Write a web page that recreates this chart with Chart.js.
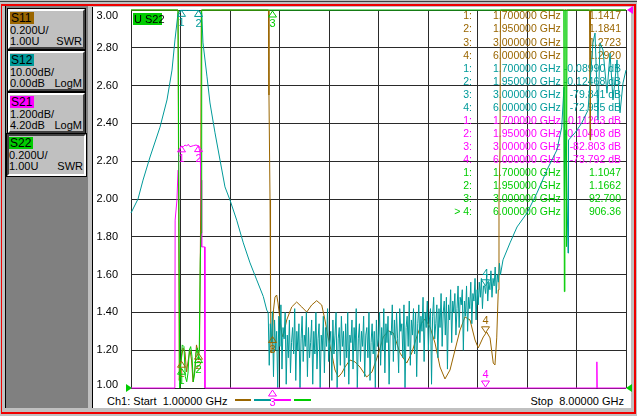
<!DOCTYPE html>
<html>
<head>
<meta charset="utf-8">
<script src="https://cdn.jsdelivr.net/npm/chart.js@4.4.1/dist/chart.umd.min.js"></script>
<style>
  html, body { margin: 0; padding: 0; }
  body { width: 637px; height: 416px; overflow: hidden; background: #c0c0c0; position: relative;
         font-family: "Liberation Sans", Arial, sans-serif; font-size: 11px; color: #000; }
  .abs { position: absolute; box-sizing: border-box; }
  #frameRed { left: 1px; top: 4px; width: 635px; height: 410px; border: 2px solid #f00000; border-left-width: 1px; }
  #topDark { left: 0; top: 1px; width: 637px; height: 1px; background: #404040; }
  #plotPanel { left: 92px; top: 7px; width: 539px; height: 401px; background: #fff; border-left: 1px solid #000; }
  #leftPanel { left: 5px; top: 6px; width: 83px; height: 402px; background: #808080; border-left: 1px solid #000; }
  .box { position: absolute; left: 8px; width: 77px; height: 40px; background: #c0c0c0; box-sizing: border-box;
         border-top: 2px solid #fff; border-left: 2px solid #fff; border-right: 2px solid #404040; border-bottom: 2px solid #404040;
         outline: 1px solid #000; }
  .box.sel { left: 7px; width: 79px; height: 42px; border-top-color: #404040; border-left-color: #404040;
             border-right-color: #fff; border-bottom-color: #fff; }
  .tag { position: absolute; left: 0; top: 1px; width: 23px; height: 12px; line-height: 12px; font-size: 12px; padding-left: 1px; }
  .l1 { position: absolute; left: 0; top: 14px; line-height: 11px; }
  .l2 { position: absolute; left: 0; top: 25px; line-height: 11px; }
  .fmt { position: absolute; right: 1px; top: 25px; line-height: 11px; }
  #chartWrap { position: absolute; left: 0; top: 0; width: 637px; height: 416px; }
  .dash { position: absolute; top: 399px; height: 2px; }
</style>
</head>
<body>
<div id="topDark" class="abs"></div>
<div id="frameRed" class="abs"></div>
<div id="leftPanel" class="abs"></div>
<div id="plotPanel" class="abs"></div>

<div class="box" style="top:9px"><div class="tag" style="background:#9a6600">S11</div><div class="l1">0.200U/</div><div class="l2">1.00U</div><div class="fmt">SWR</div></div>
<div class="box" style="top:51px"><div class="tag" style="background:#009a9a">S12</div><div class="l1">10.00dB/</div><div class="l2">0.00dB</div><div class="fmt">LogM</div></div>
<div class="box" style="top:93px"><div class="tag" style="background:#ff00ff">S21</div><div class="l1">1.200dB/</div><div class="l2">4.20dB</div><div class="fmt">LogM</div></div>
<div class="box sel" style="top:134px"><div class="tag" style="background:#00cc00">S22</div><div class="l1">0.200U/</div><div class="l2">1.00U</div><div class="fmt">SWR</div></div>

<div class="abs" style="left:107px;top:395px;line-height:13px;white-space:pre">Ch1: Start  1.00000 GHz</div>
<div class="dash" style="left:235px;width:16px;background:#9a6600"></div>
<div class="dash" style="left:254px;width:17px;background:#009a9a"></div>
<div class="dash" style="left:274px;width:17px;background:#ff00ff"></div>
<div class="dash" style="left:294px;width:17px;background:#00cc00"></div>
<div class="abs" style="right:13px;top:395px;line-height:13px;white-space:pre">Stop  8.00000 GHz</div>

<div id="chartWrap"><canvas id="vna" width="637" height="416"></canvas></div>

<script>
// sweep 1 - 8 GHz, 10 divisions
const xGridGHz = [1.0, 1.7, 2.4, 3.1, 3.8, 4.5, 5.2, 5.9, 6.6, 7.3, 8.0];
const yTickLabels = ['1.00', '1.20', '1.40', '1.60', '1.80', '2.00', '2.20', '2.40', '2.60', '2.80', '3.00'];

// marker table
const markerFreqGHz = [1.7, 1.95, 3.0, 6.0];
const s11Readout = ['1.1417', '1.1841', '1.2723', '1.2920'];
const s12Readout = ['-0.08990 dB', '-0.12468 dB', '-79.841 dB', '-72.955 dB'];
const s21Readout = ['-0.11263 dB', '-0.10408 dB', '-82.803 dB', '-73.792 dB'];
const s22Readout = ['1.1047', '1.1662', '92.700', '906.36'];

// S11, SWR (off-scale values sit on the top edge)
const s11Freq = [1.000, 1.665, 1.682, 1.707, 1.735, 1.764, 1.785, 1.806, 1.834, 1.856,
  1.877, 1.905, 1.926, 1.950, 1.969, 1.983, 1.994, 2.944, 2.951, 2.966,
  2.973, 2.980, 2.994, 3.015, 3.036, 3.060, 3.079, 3.107, 3.131, 3.149,
  3.202, 3.273, 3.343, 3.414, 3.485, 3.555, 3.626, 3.697, 3.743, 3.786,
  3.838, 3.885, 3.932, 3.980, 4.026, 4.097, 4.168, 4.238, 4.333, 4.408,
  4.493, 4.568, 4.639, 4.709, 4.757, 4.804, 4.899, 4.970, 5.040, 5.111,
  5.158, 5.228, 5.299, 5.370, 5.440, 5.511, 5.582, 5.653, 5.723, 5.794,
  5.865, 5.911, 5.982, 6.030, 6.077, 6.123, 6.147, 6.172, 6.194, 6.204,
  6.218, 6.225, 7.484, 7.491, 7.498, 8.000];
const s11Swr = [3.0, 3.0, 1.040, 1.140, 1.212, 1.190, 1.085, 1.138, 1.201, 1.148,
  1.032, 1.106, 1.228, 1.184, 1.201, 1.836, 3.0, 3.0, 2.550, 1.995,
  1.519, 1.185, 1.190, 1.413, 1.481, 1.492, 1.450, 1.360, 1.291, 1.270,
  1.360, 1.429, 1.455, 1.429, 1.402, 1.439, 1.462, 1.439, 1.360, 1.270,
  1.185, 1.095, 1.058, 1.079, 1.111, 1.148, 1.138, 1.111, 1.058, 1.085,
  1.175, 1.270, 1.303, 1.291, 1.238, 1.185, 1.132, 1.185, 1.270, 1.344,
  1.365, 1.323, 1.238, 1.111, 1.048, 1.095, 1.201, 1.307, 1.376, 1.360,
  1.254, 1.212, 1.270, 1.296, 1.265, 1.132, 1.122, 1.265, 1.519, 1.995,
  2.259, 3.0, 3.0, 2.312, 3.0, 3.0];

// S12, dB (ref 0 dB at top, 10 dB/div)
const s12HeadFreq = [1.000, 1.099, 1.170, 1.269, 1.410, 1.509, 1.580, 1.622, 1.665, 1.700,
  1.800, 1.950, 2.000, 2.018, 2.075, 2.117, 2.188, 2.259, 2.329, 2.400,
  2.495, 2.588, 2.683, 2.778, 2.871, 2.920];
const s12HeadDb = [-53.7, -50.0, -45.0, -38.9, -31.0, -23.8, -15.9, -7.9, -0.8, -0.09,
  -0.10, -0.12, -0.8, -8.7, -17.7, -24.6, -32.5, -39.7, -46.8, -50.3,
  -55.6, -61.6, -66.9, -71.4, -75.8, -79.4];
// noisy stop band, read point by point along the sweep
const s12NoiseStartGHz = 2.94;
const s12NoiseStepGHz = 0.015;
const s12NoiseDb = [
  -80, -94, -83, -88, -79.8, -97, -82, -90, -85, -100,
  -81, -89, -78, -95, -84, -87, -80, -99, -86, -92,
  -82, -96, -88, -84, -91, -79, -98, -85, -90, -83,
  -100, -87, -81, -93, -86, -89, -80, -97, -84, -92,
  -88, -82, -99, -85, -91, -80, -95, -87, -83, -100,
  -86, -90, -81, -96, -84, -89, -79, -93, -88, -85,
  -98, -82, -91, -86, -80, -100, -87, -84, -94, -81,
  -89, -85, -97, -83, -92, -80, -99, -86, -88, -82,
  -95, -84, -90, -79, -100, -87, -83, -93, -85, -89,
  -81, -97, -86, -84, -92, -80, -98, -88, -83, -91,
  -85, -100, -82, -89, -87, -80, -94, -84, -90, -79,
  -96, -83, -88, -81, -99, -85, -86, -78, -93, -82,
  -90, -80, -87, -96, -79, -85, -83, -92, -78, -100,
  -84, -81, -89, -77, -94, -82, -86, -79, -91, -80,
  -97, -83, -78, -88, -81, -85, -76, -93, -80, -84,
  -77, -90, -82, -79, -99, -81, -76, -87, -83, -78,
  -92, -79, -84, -75, -89, -80, -77, -86, -76, -95,
  -78, -82, -74, -88, -77, -80, -75, -86, -79, -73,
  -84, -76, -78, -74, -90, -77, -81, -73, -85, -76,
  -79, -72, -83, -75, -77, -71, -82, -74, -78, -72,
  -76, -71, -79, -73, -72.96, -75, -70, -77, -72, -74,
  -69, -76, -71, -73, -68, -75, -70, -72, -67, -70];
const s12TailFreq = [6.261, 6.360, 6.459, 6.600, 6.741, 6.883, 7.024, 7.091, 7.123, 7.130,
  7.151, 7.180, 7.187, 7.279, 7.374, 7.463, 7.533, 7.562, 7.604, 7.632,
  7.675, 7.731, 7.774, 7.816, 7.873, 7.915, 7.958, 8.000];
const s12TailDb = [-66.1, -61.6, -57.4, -53.7, -48.4, -42.3, -37.0, -31.0, -20.4, -50.3,
  -31.7, -64.3, -34.4, -32.5, -29.9, -26.5, -8.7, -6.1, -29.1, -8.7,
  -10.6, -22.0, -11.4, -23.8, -13.2, -27.2, -19.3, -15.9];

// S21, dB (ref 4.20 dB at top, 1.2 dB/div, off-scale on bottom edge)
const s21Freq = [1.000, 1.620, 1.624, 1.650, 1.665, 1.672, 1.683, 1.703, 1.740, 1.764,
  1.788, 1.810, 1.834, 1.881, 1.919, 1.952, 1.976, 1.990, 2.000, 2.040,
  2.046, 7.583, 7.588, 7.593, 8.000];
const s21Db = [-7.8, -7.8, -2.47, -1.83, -0.88, -0.24, -0.30, -0.14, -0.14, -0.086,
  -0.117, -0.063, -0.14, -0.108, -0.086, -0.117, -0.30, -1.20, -3.32, -3.32,
  -7.8, -7.8, -6.97, -7.8, -7.8];

// S22, SWR (active trace)
const s22Freq = [1.000, 1.665, 1.690, 1.700, 1.725, 1.749, 1.768, 1.788, 1.806, 1.824,
  1.844, 1.863, 1.881, 1.901, 1.919, 1.938, 1.950, 1.957, 1.966, 1.980,
  1.990, 2.000, 7.120, 7.128, 7.136, 7.150, 7.158, 7.166, 8.000];
const s22Swr = [3.0, 3.0, 1.0, 1.105, 1.228, 1.219, 1.060, 1.033, 1.079, 1.201,
  1.219, 1.166, 1.033, 1.079, 1.185, 1.212, 1.166, 1.148, 1.219, 1.677,
  1.820, 3.0, 3.0, 1.510, 3.0, 3.0, 1.748, 3.0, 3.0];

const COL = { s11: '#9a6600', s12: '#009a9a', s21: '#ff00ff', s22: '#00cc00', grid: '#2a2a2a' };
const FONT = '11px "Liberation Sans", Arial, sans-serif';
const TABLE_FONT = '10.5px "Liberation Sans", Arial, sans-serif';

function pts(fs, vs) { return fs.map((f, i) => ({ x: f, y: vs[i] })); }

const s12Noise = s12NoiseDb.map((v, i) => ({ x: s12NoiseStartGHz + i * s12NoiseStepGHz, y: v }));
const s12Data = pts(s12HeadFreq, s12HeadDb).concat(s12Noise, pts(s12TailFreq, s12TailDb));

// which markers are visible per trace
const traces = [
  { color: COL.s11, axis: 'y',    read: s11Readout, shown: [0, 1, 2, 3] },
  { color: COL.s12, axis: 'yS12', read: s12Readout, shown: [0, 1, 3] },
  { color: COL.s21, axis: 'yS21', read: s21Readout, shown: [0, 1, 2, 3] },
  { color: COL.s22, axis: 'y',    read: s22Readout, shown: [0, 1, 2] }
];

function tri(ctx, x, tip, down, color) {
  ctx.strokeStyle = color;
  ctx.lineWidth = 1;
  ctx.beginPath();
  const h = down ? -6 : 6;
  ctx.moveTo(x, tip);
  ctx.lineTo(x - 4, tip + h);
  ctx.lineTo(x + 4, tip + h);
  ctx.closePath();
  ctx.stroke();
}

const vnaOverlay = {
  id: 'vnaOverlay',
  beforeDatasetsDraw(chart) {
    // marker readout table sits under the traces
    const ctx = chart.ctx;
    ctx.save();
    ctx.font = TABLE_FONT;
    ctx.textBaseline = 'middle';
    let row = 0;
    traces.forEach((t, ti) => t.read.forEach((r, mi) => {
      const y = 16.5 + row * 13.07;
      ctx.fillStyle = t.color;
      ctx.textAlign = 'right';
      ctx.fillText((ti === 3 && mi === 3 ? '> ' : '') + (mi + 1) + ':', 472, y);
      ctx.textAlign = 'left';
      ctx.fillText(markerFreqGHz[mi].toFixed(6) + ' GHz', 493, y);
      ctx.textAlign = 'right';
      ctx.fillText(r, 621, y);
      row++;
    }));
    ctx.restore();
  },
  afterDatasetsDraw(chart) {
    const ctx = chart.ctx, area = chart.chartArea, xs = chart.scales.x, ys = chart.scales.y;
    ctx.save();
    ctx.font = FONT;
    ctx.textAlign = 'center';
    ctx.textBaseline = 'middle';
    traces.forEach(t => {
      const sc = chart.scales[t.axis];
      t.shown.forEach(i => {
        const px = Math.round(xs.getPixelForValue(markerFreqGHz[i])) + 0.5;
        let py = sc.getPixelForValue(parseFloat(t.read[i]));
        let down = i === 3;
        if (py <= area.top) { py = area.top + 1; down = false; }
        else if (py >= area.bottom) { py = down ? area.bottom - 1 : area.bottom + 2; }
        tri(ctx, px, py, down, t.color);
        ctx.fillStyle = t.color;
        ctx.fillText(String(i + 1), px, down ? py - 12 : py + 13);
      });
    });

    // reference position arrows for the active trace
    const ry = ys.getPixelForValue(1.0);
    ctx.fillStyle = COL.s22;
    ctx.beginPath();
    ctx.moveTo(area.left + 1, ry); ctx.lineTo(area.left - 5, ry - 4); ctx.lineTo(area.left - 5, ry + 4);
    ctx.closePath(); ctx.fill();
    ctx.beginPath();
    ctx.moveTo(area.right, ry); ctx.lineTo(area.right + 6, ry - 4); ctx.lineTo(area.right + 6, ry + 4);
    ctx.closePath(); ctx.fill();
    const my = chart.scales.yS21.getPixelForValue(4.2);
    ctx.fillStyle = COL.s21;
    ctx.beginPath();
    ctx.moveTo(area.right + 1, my); ctx.lineTo(area.right + 7, my - 4); ctx.lineTo(area.right + 7, my + 4);
    ctx.closePath(); ctx.fill();

    // active trace tag
    ctx.fillStyle = COL.s22;
    ctx.fillRect(area.left + 2, area.top + 3, 29, 12);
    ctx.fillStyle = '#000';
    ctx.textAlign = 'left';
    ctx.fillText('U S22', area.left + 3, area.top + 9.5);

    // y labels, kept inside the plot height like the instrument does
    ctx.textAlign = 'right';
    yTickLabels.forEach(lbl => {
      let y = ys.getPixelForValue(Number(lbl));
      y = Math.min(Math.max(y, area.top + 6), area.bottom - 3.5);
      ctx.fillText(lbl, area.left - 13, y);
    });
    ctx.restore();
  }
};

function line(label, data, color, axis, order) {
  return { label, data, borderColor: color, backgroundColor: color, borderWidth: 1,
           pointRadius: 0, tension: 0, yAxisID: axis, clip: false, order };
}

new Chart(document.getElementById('vna'), {
  type: 'line',
  data: {
    datasets: [
      line('S22', pts(s22Freq, s22Swr), COL.s22, 'y', 0),
      line('S21', pts(s21Freq, s21Db), COL.s21, 'yS21', 1),
      line('S12', s12Data, COL.s12, 'yS12', 2),
      line('S11', pts(s11Freq, s11Swr), COL.s11, 'y', 3)
    ]
  },
  options: {
    responsive: false,
    animation: false,
    events: [],
    layout: { padding: { left: 131, top: 10, right: 11, bottom: 28 } },
    plugins: { legend: { display: false }, tooltip: { enabled: false } },
    scales: {
      x: {
        type: 'linear', min: 1, max: 8,
        afterBuildTicks: s => { s.ticks = xGridGHz.map(v => ({ value: v })); },
        afterFit: s => { s.height = 0; },
        ticks: { display: false },
        grid: { color: COL.grid, lineWidth: 1, drawTicks: false },
        border: { display: false }
      },
      y: {
        type: 'linear', min: 1, max: 3,
        afterBuildTicks: s => { s.ticks = yTickLabels.map(v => ({ value: Number(v) })); },
        afterFit: s => { s.width = 0; },
        ticks: { display: false },
        grid: { color: COL.grid, lineWidth: 1, drawTicks: false },
        border: { display: false }
      },
      yS12: { type: 'linear', min: -100, max: 0, display: false },
      yS21: { type: 'linear', min: -7.8, max: 4.2, display: false }
    }
  },
  plugins: [vnaOverlay]
});
</script>
</body>
</html>
